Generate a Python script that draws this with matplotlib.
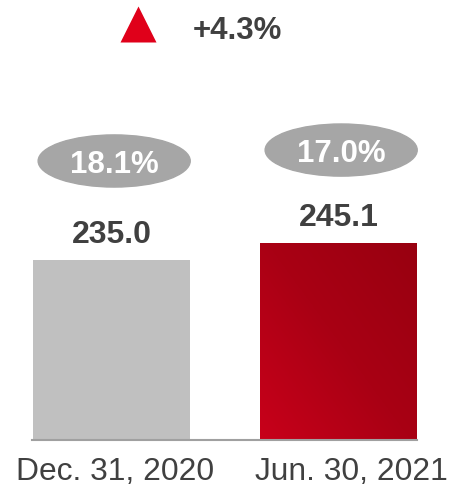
import numpy as np
import matplotlib.pyplot as plt
from matplotlib.patches import Ellipse
from matplotlib.colors import LinearSegmentedColormap

plt.rcParams['font.family'] = ['Liberation Sans', 'DejaVu Sans']

dates = ['Dec. 31, 2020', 'Jun. 30, 2021']
values = [235.0, 245.1]
ratios = ['18.1%', '17.0%']
change = '+4.3%'

base = 128.0
dark = '#404040'

fig = plt.figure(figsize=(4.49, 4.87), dpi=100)
ax = fig.add_axes([0, 0, 1, 1])
ax.axis('off')

x = np.arange(len(values))
w = 0.69
bars = ax.bar(x, [v - base for v in values], bottom=base, width=w,
              color=['#c0c0c0', 'none'], zorder=2)

# gradient fill for the second bar
red = bars[1]
cmap = LinearSegmentedColormap.from_list('r', ['#c8001a', '#a90014', '#980010'])
gx, gy = np.meshgrid(np.linspace(0, 1, 200), np.linspace(0, 1, 200))
grad = 0.6 * gx + 0.55 * gy
im = ax.imshow(grad, cmap=cmap, origin='lower', aspect='auto',
               extent=[x[1] - w / 2, x[1] + w / 2, base, values[1]], zorder=2)
im.set_clip_path(red)
ax.set_xlim(-0.491, 1.487)
ax.set_ylim(100.1, 389.6)

ax.plot([x[0] - w / 2 - 0.005, x[1] + w / 2], [base, base], color='#a0a0a0', lw=1.5, zorder=3)

ell_y = [293.9, 300.4]
date_dx = [0.018, 0.058]
for i, v in enumerate(values):
    ax.text(x[i], v + 10, f'{v:.1f}', ha='center', va='baseline',
            fontsize=23, fontweight='bold', color=dark)
    ax.add_patch(Ellipse((x[i] + 0.012, ell_y[i]), 0.67, 31, color='#a6a6a6', zorder=2))
    ax.text(x[i] + 0.012, ell_y[i] - 2.1, ratios[i], ha='center', va='center',
            fontsize=22.5, fontweight='bold', color='white', zorder=3)
    ax.text(x[i] + date_dx[i], 109.3, dates[i], ha='center', va='center',
            fontsize=22.9, color=dark)

ax.plot([0.119], [375.4], marker='^', markersize=26.6, color='#e0001a', mec='none')
fig.text(193 / 449, 1 - 31 / 487, change, ha='left', va='center',
         fontsize=22.5, fontweight='bold', color=dark)

fig.savefig('out.png', dpi=100)
